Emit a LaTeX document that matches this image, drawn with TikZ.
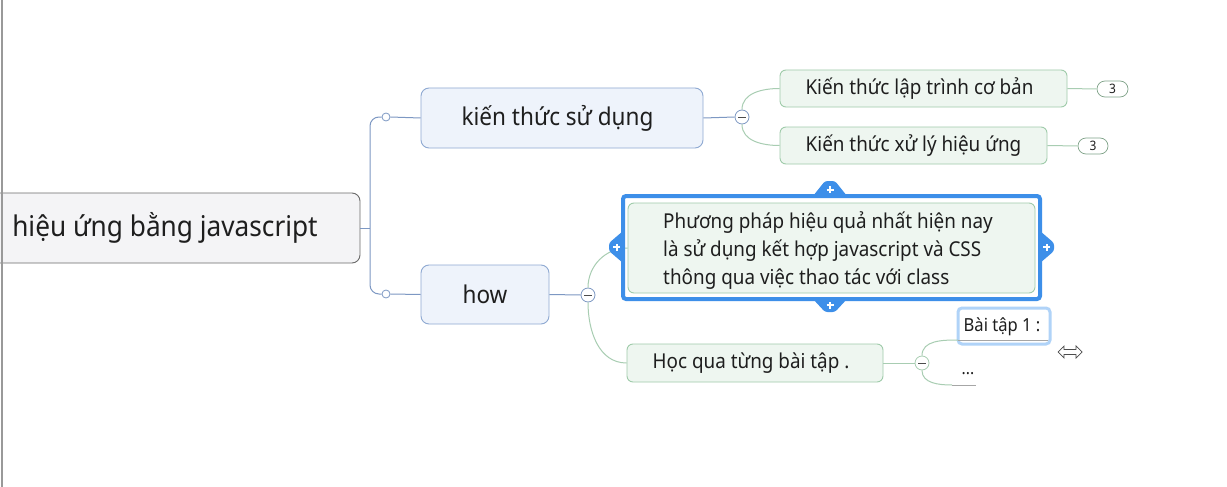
\documentclass[tikz,border=0pt]{standalone}
\usepackage{fontspec}
\setmainfont{Noto Sans}[FakeStretch=0.92]
\usetikzlibrary{shapes.geometric}
\definecolor{txt}{HTML}{1E1E1E}
\definecolor{blueline}{HTML}{7D98C3}
\definecolor{greenline}{HTML}{A8CDB2}
\definecolor{bluefill}{HTML}{EEF3FB}
\definecolor{blueborder}{HTML}{8EA9D2}
\definecolor{greenfill}{HTML}{EEF6F0}
\definecolor{greenborder}{HTML}{9FCBAA}
\definecolor{rootfill}{HTML}{F4F4F6}
\definecolor{rootborder}{HTML}{6A6A6A}
\definecolor{selblue}{HTML}{3D8FE9}
\definecolor{hlblue}{HTML}{B0D3F8}
\tikzset{
  rootbox/.style={draw=rootborder, fill=rootfill, rounded corners=8pt, line width=0.9pt, text=txt, inner sep=0pt},
  mainbox/.style={draw=blueborder, fill=bluefill, rounded corners=8pt, line width=0.9pt, text=txt, inner sep=0pt, font=\fontsize{24.5}{28}\selectfont},
  subbox/.style={draw=greenborder, fill=greenfill, rounded corners=6pt, line width=0.9pt, text=txt, inner sep=0pt, font=\fontsize{20.5}{28}\selectfont},
  badge/.style={draw=greenborder!80!black, fill=white, rounded corners=8pt, line width=0.7pt, inner sep=0pt, font=\fontsize{13}{14}\selectfont, text=txt},
  bl/.style={draw=blueline, line width=1pt},
  gr/.style={draw=greenline, line width=1pt},
  opencirc/.style={circle, draw=blueline, fill=white, line width=0.8pt, minimum size=8pt, inner sep=0pt},
  minuscirc/.style={circle, fill=white, line width=0.8pt, minimum size=14pt, inner sep=0pt,
    path picture={\draw[line width=1pt, black!70] ([xshift=-4pt]path picture bounding box.center) -- ([xshift=4pt]path picture bounding box.center);}},
  handleshape/.style={fill=selblue, rounded corners=2.5pt},
  plus/.style={inner sep=0pt, minimum size=8pt,
    path picture={\draw[white, line width=2pt] ([xshift=-3.5pt]path picture bounding box.center) -- ([xshift=3.5pt]path picture bounding box.center)
      ([yshift=-3.5pt]path picture bounding box.center) -- ([yshift=3.5pt]path picture bounding box.center);}},
  plain/.style={inner sep=0pt, text=txt},
}
\begin{document}
\begin{tikzpicture}[x=1pt, y=-1pt]
\useasboundingbox[fill=white] (0,0) rectangle (1227,487);

% root
\node[rootbox, minimum width=380pt, minimum height=70pt, font=\fontsize{28.5}{32}\selectfont] (root) at (170,228) {\hspace*{-10pt}hiệu ứng bằng javascript};

% first level
\node[mainbox, minimum width=282pt, minimum height=60pt] (k1) at (562,118) {\hspace*{-9pt}kiến thức sử dụng};
\node[mainbox, minimum width=128pt, minimum height=59pt] (how) at (485,294.5) {how};
\node[opencirc] (o1) at (386,117) {};
\node[opencirc] (o2) at (386,294) {};
\coordinate (j) at (370,228);
\draw[bl] (root.east) -- (j);
\draw[bl, rounded corners=9pt] (o1.west) -| (j) |- (o2.west);
\draw[bl] (o1.east) -- (k1.west);
\draw[bl] (o2.east) -- (how.west);

% second level under k1
\node[subbox, minimum width=287pt, minimum height=37pt] (a1) at (923.5,88.5) {\hspace*{-8pt}Kiến thức lập trình cơ bản};
\node[subbox, minimum width=267pt, minimum height=37pt] (a2) at (913.5,145.5) {Kiến thức xử lý hiệu ứng};
\node[minuscirc, draw=blueline] (m1) at (742,117) {};
\draw[bl] (k1.east) -- (m1.west);
\draw[gr] (m1.north) to[out=90, in=180] (a1.west);
\draw[gr] (m1.south) to[out=-90, in=180] (a2.west);
\node[badge, minimum width=31pt, minimum height=16pt] (b1) at (1112.5,89) {3};
\node[badge, minimum width=30pt, minimum height=16pt] (b2) at (1093,146) {3};
\draw[gr] (a1.east) -- (b1.west);
\draw[gr] (a2.east) -- (b2.west);

% second level under how
\node[minuscirc, draw=blueline] (m2) at (588,295) {};
\draw[bl] (how.east) -- (m2.west);
\node[subbox, minimum width=407pt, minimum height=90pt] (p) at (831.5,248) {};
\node[plain, align=left, font=\fontsize{20.5}{28}\selectfont] (ptxt) at (828,251)
  {Phương pháp hiệu quả nhất hiện nay\\là sử dụng kết hợp javascript và CSS\\thông qua việc thao tác với class};
\node[subbox, minimum width=256pt, minimum height=38pt] (q) at (755,363) {\hspace*{-8pt}Học qua từng bài tập .};
\draw[gr] (m2.north) to[out=90, in=180] (p.west);
\draw[gr] (m2.south) to[out=-90, in=180] (q.west);

% selection frame with handles
\node[draw=selblue, line width=4pt, rounded corners=3pt, minimum width=417pt, minimum height=103pt, inner sep=0pt] (sel) at (831.5,247.5) {};
\fill[handleshape] (813,196) -- (825,181) -- (835,181) -- (847,196) -- cycle;
\fill[handleshape] (813,299) -- (825,312) -- (835,312) -- (847,299) -- cycle;
\fill[handleshape] (623,231) -- (609,243) -- (609,251) -- (623,263) -- cycle;
\fill[handleshape] (1040,231) -- (1054,243) -- (1054,251) -- (1040,263) -- cycle;
\node[plus] (ht) at (830,189.5) {};
\node[plus] (hb) at (830,305) {};
\node[plus] (hl) at (616.5,247) {};
\node[plus] (hr) at (1046.5,247) {};

% third level under q
\node[minuscirc, draw=greenline] (m3) at (922,363) {};
\draw[gr] (q.east) -- (m3.west);
\node[draw=hlblue, line width=3pt, rounded corners=4pt, minimum width=92pt, minimum height=36pt, inner sep=0pt] (bsel) at (1004,326) {};
\node[plain, font=\fontsize{18}{20}\selectfont] (bai) at (1002,327) {Bài tập 1 :};
\coordinate (u1) at (958,340);
\coordinate (u1e) at (1048,340);
\draw[gr, draw=black!35] (u1) -- (u1e);
\draw[gr] (m3.north) to[out=90, in=180] (u1);
\node[plain, font=\fontsize{17}{20}\selectfont] (dots) at (968,374) {...};
\coordinate (u2) at (952,385);
\coordinate (u2e) at (976,385);
\draw[gr] (m3.south) to[out=-90, in=180] (u2);
\draw[gr, draw=black!35] (u2) -- (u2e);

% left window edge
\draw[line width=1.5pt, black!40] (2,0) -- (2,487);

% cursor
\draw[fill=white, draw=black!70, line width=0.7pt, line join=miter]
  (1058,352) -- (1064,346) -- (1064,349.5) -- (1076,349.5) -- (1076,346) -- (1082,352)
  -- (1076,358) -- (1076,354.5) -- (1064,354.5) -- (1064,358) -- cycle;
\end{tikzpicture}
\end{document}
